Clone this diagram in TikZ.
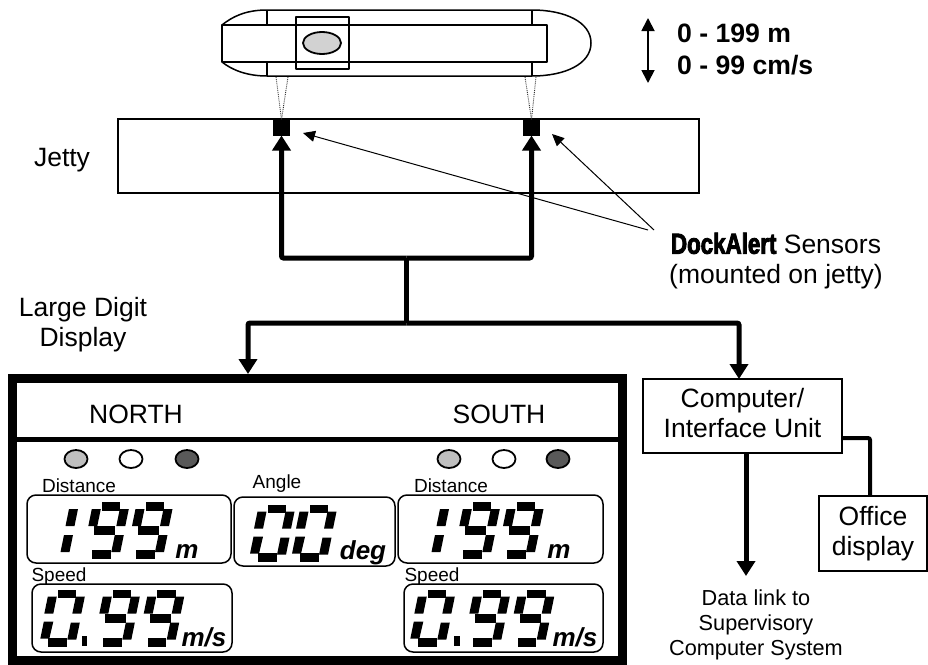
\documentclass[tikz,border=0pt]{standalone}
\usepackage{fontspec}
\setmainfont{Liberation Sans}
\newfontfamily\dockfont[FakeStretch=0.77,FakeBold=3]{Liberation Sans Bold}
\usetikzlibrary{arrows.meta, positioning, shapes.geometric}

\begin{document}
\begin{tikzpicture}[
    x=1pt, y=-1pt,
    outline/.style={draw, line width=1.5pt, line join=round},
    beam/.style={draw, densely dotted, line width=0.9pt, black!80},
    feed/.style={line width=5pt, rounded corners=2pt, -{Triangle[length=15pt,width=18pt]}},
    plainfeed/.style={line width=5pt, rounded corners=2pt},
    pointer/.style={line width=1pt, -{Triangle[length=12pt,width=11pt]}},
    sensor/.style={rectangle, fill=black, minimum width=17pt, minimum height=16pt, inner sep=0pt, outer sep=0pt},
    box/.style={rectangle, draw, line width=1.5pt, fill=white, inner sep=0pt, outer sep=0pt, align=center, font=\fontsize{26.5}{30}\selectfont},
    panel/.style={rectangle, draw, line width=1.5pt, rounded corners=9pt, inner sep=0pt, outer sep=0pt},
    led/.style={ellipse, draw, line width=1.8pt, minimum width=23pt, minimum height=18pt, inner sep=0pt},
    biglabel/.style={align=center, inner sep=0pt, font=\fontsize{26.5}{30}\selectfont},
    smalllabel/.style={anchor=base, inner sep=0pt, font=\fontsize{19}{22}\selectfont},
    unitlabel/.style={anchor=base, inner sep=0pt, font=\fontsize{26}{30}\selectfont\bfseries\itshape},
    onedigit/.pic={
        \fill (24,-33) -- (33,-33) -- (36.5,-50) -- (27.5,-50) -- cycle;
        \fill (19,-7) -- (28,-7) -- (31.5,-24) -- (22.5,-24) -- cycle;
    },
    ninedigit/.pic={
        \fill (0,0) rectangle (18.5,-9);
        \fill (9.5,-48.5) rectangle (28,-57);
        \fill (2,-24) rectangle (23,-33);
        \fill (24,-33) -- (33,-33) -- (36.5,-50) -- (27.5,-50) -- cycle;
        \fill (19,-7) -- (28,-7) -- (31.5,-24) -- (22.5,-24) -- cycle;
        \fill (-4,-33) -- (5,-33) -- (8.5,-50) -- (-0.5,-50) -- cycle;
    },
    zerodigit/.pic={
        \fill (0,0) rectangle (18.5,-9);
        \fill (9.5,-48.5) rectangle (28,-57);
        \fill (24,-33) -- (33,-33) -- (36.5,-50) -- (27.5,-50) -- cycle;
        \fill (19,-7) -- (28,-7) -- (31.5,-24) -- (22.5,-24) -- cycle;
        \fill (-4,-33) -- (5,-33) -- (8.5,-50) -- (-0.5,-50) -- cycle;
        \fill (-8,-8) -- (1,-8) -- (5,-25) -- (-4.5,-25) -- cycle;
    }
]
\useasboundingbox (0,0) rectangle (928,664);

% ship
\draw[outline] (267,10) -- (532,10) .. controls (565,10) and (591,22) .. (591,43) .. controls (591,64) and (565,76) .. (532,76) -- (267,76) .. controls (247,76) and (232,70) .. (222,62);
\draw[outline] (222,25) .. controls (232,17) and (245,10) .. (267,10);
\draw[outline] (222,25) rectangle (547,62);
\draw[outline] (267,10) -- (267,25);
\draw[outline] (267,62) -- (267,76);
\draw[outline] (532,10) -- (532,25);
\draw[outline] (532,62) -- (532,76);
\draw[outline] (296,17) rectangle (349,69);
\node[ellipse, draw, line width=1.8pt, fill=gray!35, minimum width=38pt, minimum height=22pt, inner sep=0pt] (hatch) at (322,43) {};

% jetty and sensors
\node[box, minimum width=581pt, minimum height=74pt] (jetty) at (408.5,156) {};
\node[biglabel, anchor=base] (jettylabel) at (62,166) {Jetty};
\node[sensor] (sensornorth) at (281.5,127.5) {};
\node[sensor] (sensorsouth) at (531.5,127.5) {};
\coordinate (beamnortha) at (276,77);
\coordinate (beamnorthb) at (288,77);
\coordinate (beamsoutha) at (525,77);
\coordinate (beamsouthb) at (536,77);
\draw[beam] (beamnortha) -- (sensornorth.north);
\draw[beam] (beamnorthb) -- (sensornorth.north);
\draw[beam] (beamsoutha) -- (sensorsouth.north);
\draw[beam] (beamsouthb) -- (sensorsouth.north);

% range
\coordinate (rangetop) at (648,18);
\coordinate (rangebottom) at (648,83);
\draw[line width=1.8pt, {Triangle[length=13pt,width=13pt]}-{Triangle[length=13pt,width=13pt]}] (rangetop) -- (rangebottom);
\node[anchor=west, align=left, inner sep=0pt, font=\fontsize{26.6}{32}\selectfont\bfseries] (rangelabel) at (677,49.5) {0 - 199 m\\0 - 99 cm/s};

% sensor label
\node[biglabel] (sensorlabel) at (776,261) {{\dockfont\fontsize{29}{30}\selectfont DockAlert} Sensors\\(mounted on jetty)};
\coordinate (pointernorth) at (648,230);
\coordinate (pointersouth) at (654,230);
\coordinate (tipnorth) at (303,133);
\coordinate (tipsouth) at (552,134);

% feeds
\coordinate (jettybus) at (406.5,258);
\coordinate (splitbus) at (406.5,323);
\coordinate (framein) at (248,374);
\coordinate (computerin) at (739,379);
\draw[feed] (jettybus) -| (sensornorth.south);
\draw[feed] (jettybus) -| (sensorsouth.south);
\draw[plainfeed] (jettybus) -- (splitbus);
\draw[feed] (splitbus) -| (framein);
\draw[feed] (splitbus) -| (computerin);
\draw[pointer] (pointernorth) -- (tipnorth);
\draw[pointer] (pointersouth) -- (tipsouth);

% computer side
\node[box, minimum width=199pt, minimum height=74pt, text depth=6pt] (computer) at (742.5,416) {Computer/\\Interface Unit};
\node[box, minimum width=108pt, minimum height=75pt] (office) at (873,533.5) {Office\\display};
\coordinate (officeout) at (842,438);
\coordinate (officein) at (870,496);
\draw[line width=4pt, rounded corners=2pt] (officeout) -| (officein);
\coordinate (dataout) at (746,453);
\coordinate (datain) at (746,576);
\draw[feed] (dataout) -- (datain);
\node[align=center, inner sep=0pt, font=\fontsize{21.7}{25}\selectfont] (datalabel) at (756,625) {Data link to\\Supervisory\\Computer System};

% display
\node[biglabel] (displaylabel) at (83,325) {Large Digit\\Display};
\node[rectangle, draw, line width=9pt, minimum width=609.5pt, minimum height=281.5pt, inner sep=0pt] (frame) at (317.25,519.25) {};
\draw[line width=5pt] (13,439) -- (622,439);
\node[biglabel, anchor=base] (north) at (136,423) {NORTH};
\node[biglabel, anchor=base] (south) at (499,423) {SOUTH};

\node[led, fill=gray!50] (lednortha) at (76,459) {};
\node[led, fill=white] (lednorthb) at (131,459) {};
\node[led, fill=black!65] (lednorthc) at (187,459) {};
\node[led, fill=gray!50] (ledsoutha) at (449,459) {};
\node[led, fill=white] (ledsouthb) at (504,459) {};
\node[led, fill=black!65] (ledsouthc) at (558,459) {};

\node[smalllabel] (distnorthlabel) at (79,492) {Distance};
\node[smalllabel] (anglelabel) at (277,488) {Angle};
\node[smalllabel] (distsouthlabel) at (451,492) {Distance};
\node[smalllabel] (speednorthlabel) at (59,581) {Speed};
\node[smalllabel] (speedsouthlabel) at (432,581) {Speed};

\node[panel, minimum width=204pt, minimum height=68pt] (distnorth) at (129,529) {};
\node[panel, minimum width=161pt, minimum height=69pt] (angle) at (314.5,531.5) {};
\node[panel, minimum width=205pt, minimum height=68pt] (distsouth) at (500.5,529) {};
\node[panel, minimum width=200pt, minimum height=68pt] (speednorth) at (132,618) {};
\node[panel, minimum width=199pt, minimum height=68pt] (speedsouth) at (503.5,618) {};

\pic (distnortha) at (41.5,559) {onedigit};
\pic (distnorthb) at (92.3,559) {ninedigit};
\pic (distnorthc) at (136,559) {ninedigit};
\pic (distsoutha) at (412.5,559) {onedigit};
\pic (distsouthb) at (463.3,559) {ninedigit};
\pic (distsouthc) at (507,559) {ninedigit};
\pic (anglea) at (258,561.7) {zerodigit};
\pic (angleb) at (300,561.7) {zerodigit};
\pic (speednortha) at (48.3,646.7) {zerodigit};
\pic (speednorthb) at (103.3,646.7) {ninedigit};
\pic (speednorthc) at (147.7,646.7) {ninedigit};
\pic (speedsoutha) at (418.3,646.7) {zerodigit};
\pic (speedsouthb) at (473.3,646.7) {ninedigit};
\pic (speedsouthc) at (517.7,646.7) {ninedigit};
\fill (81.7,636) rectangle (87.3,646);
\fill (454,636) rectangle (459.6,646);

\node[unitlabel] (unitnorth) at (187,558) {m};
\node[unitlabel] (unitangle) at (363,559) {deg};
\node[unitlabel] (unitsouth) at (559,558) {m};
\node[unitlabel] (speedunitnorth) at (204,646) {m/s};
\node[unitlabel] (speedunitsouth) at (575,646) {m/s};

\end{tikzpicture}
\end{document}
